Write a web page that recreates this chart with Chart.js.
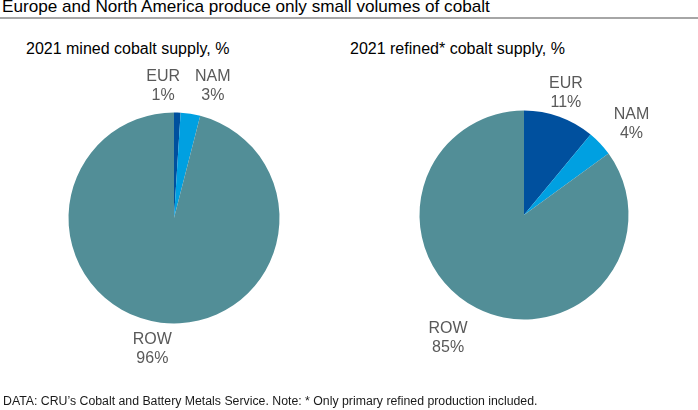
<!DOCTYPE html>
<html>
<head>
<meta charset="utf-8">
<script src="https://cdn.jsdelivr.net/npm/chart.js@4.4.0/dist/chart.umd.min.js"></script>
<style>
  html, body { margin: 0; padding: 0; background: #fff; }
  #wrap { position: relative; width: 698px; height: 410px; overflow: hidden; font-family: "Liberation Sans", Arial, sans-serif; }
  .txt { position: absolute; white-space: nowrap; }
  #title { left: 2px; top: -2px; font-size: 17.15px; line-height: 17px; color: #000; }
  #rule { position: absolute; left: 0; top: 16.5px; width: 698px; height: 2px; background: #a6a6a6; }
  .sub { font-size: 16px; line-height: 16px; color: #000; top: 40.5px; }
  #sub1 { left: 26px; }
  #sub2 { left: 350px; }
  #foot { left: 3px; top: 394.6px; font-size: 12.3px; line-height: 12px; color: #1a1a1a; }
  canvas { position: absolute; top: 0; }
  #c1 { left: 0; }
  #c2 { left: 349px; }
</style>
</head>
<body>
<div id="wrap">
  <div id="title" class="txt">Europe and North America produce only small volumes of cobalt</div>
  <div id="rule"></div>
  <div id="sub1" class="txt sub">2021 mined cobalt supply, %</div>
  <div id="sub2" class="txt sub">2021 refined* cobalt supply, %</div>
  <canvas id="c1" width="349" height="410"></canvas>
  <canvas id="c2" width="349" height="410"></canvas>
  <div id="foot" class="txt">DATA: CRU’s Cobalt and Battery Metals Service. Note: * Only primary refined production included.</div>
</div>
<script>
// ---- data ----
const regions = ['EUR', 'NAM', 'ROW'];
const minedShare = [1, 3, 96];
const refinedShare = [11, 4, 85];
const sliceColors = ['#00509E', '#00A0E1', '#528E97'];

const sliceLabels = {
  id: 'sliceLabels',
  afterDatasetsDraw(chart, args, opts) {
    const ctx = chart.ctx;
    const meta = chart.getDatasetMeta(0);
    const labels = chart.data.labels;
    const vals = chart.data.datasets[0].data;
    ctx.save();
    ctx.font = opts.font;
    ctx.fillStyle = opts.color;
    ctx.textAlign = 'center';
    ctx.textBaseline = 'middle';
    meta.data.forEach((arc, i) => {
      const p = arc.getProps(['x', 'y', 'startAngle', 'endAngle', 'outerRadius'], true);
      const mid = (p.startAngle + p.endAngle) / 2;
      const lines = [labels[i], vals[i] + '%'];
      const w = Math.max(...lines.map(t => ctx.measureText(t).width)) / 2;
      const h = opts.lineHeight * lines.length / 2;
      const c = Math.cos(mid), s = Math.sin(mid);
      const d = p.outerRadius + opts.gap + Math.abs(c) * w + Math.abs(s) * h;
      const n = opts.nudge[i] || [0, 0];
      const cx = p.x + c * d + n[0];
      const cy = p.y + s * d + n[1];
      lines.forEach((t, k) => ctx.fillText(t, cx, cy + (k - (lines.length - 1) / 2) * opts.lineHeight));
    });
    ctx.restore();
  }
};

function makePie(id, values, padding, nudge) {
  return new Chart(document.getElementById(id), {
    type: 'pie',
    data: {
      labels: regions,
      datasets: [{ data: values, backgroundColor: sliceColors, borderWidth: 0 }]
    },
    options: {
      responsive: false,
      animation: false,
      layout: { padding: padding },
      plugins: {
        legend: { display: false },
        tooltip: { enabled: false },
        sliceLabels: {
          font: '16px "Liberation Sans", Arial, sans-serif',
          color: '#595959',
          lineHeight: 19,
          gap: 6,
          nudge: nudge
        }
      }
    },
    plugins: [sliceLabels]
  });
}

makePie('c1', minedShare, { left: 68.5, right: 69.5, top: 112.5, bottom: 86.5 },
  [[-15, -1], [18, 0], [-5, -1]]);
makePie('c2', refinedShare, { left: 70.5, right: 69.5, top: 110.5, bottom: 90.5 },
  [[-3.5, 4], [8, 3], [-14, 1.5]]);
</script>
</body>
</html>
